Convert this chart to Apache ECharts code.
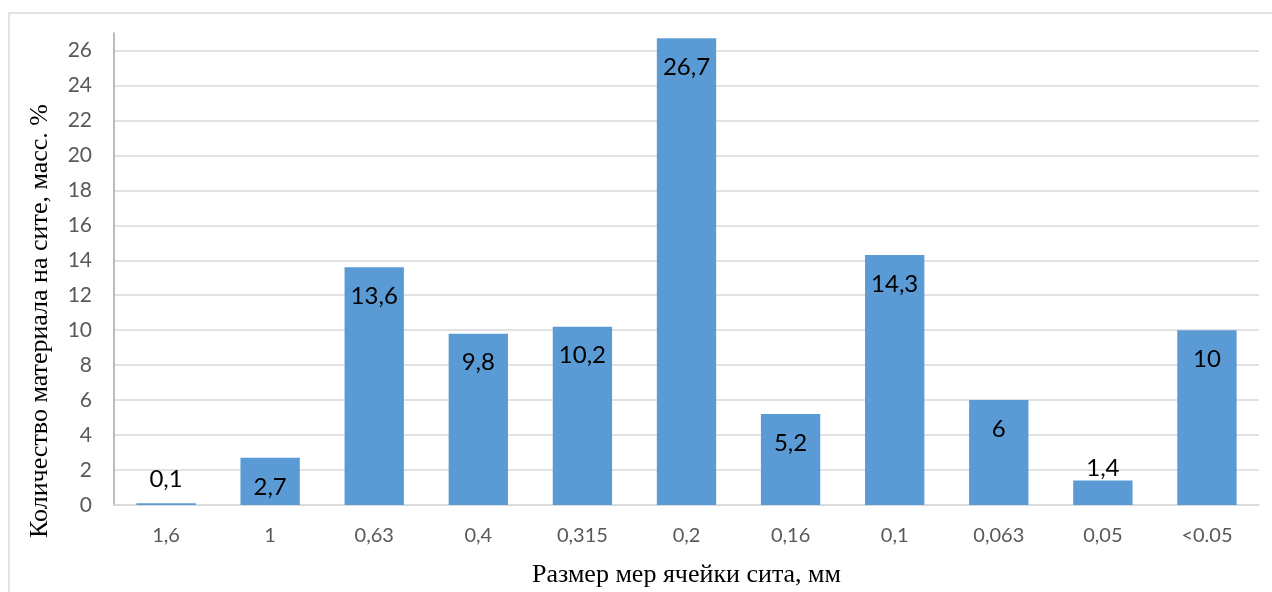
<!DOCTYPE html>
<html>
<head>
<meta charset="utf-8">
<script src="https://cdn.jsdelivr.net/npm/echarts@6/dist/echarts.min.js"></script>
<style>html,body{margin:0;padding:0;background:#fff}#c{width:1272px;height:592px}</style>
</head>
<body>
<div id="c"></div>
<script>
const categories = ['1,6', '1', '0,63', '0,4', '0,315', '0,2', '0,16', '0,1', '0,063', '0,05', '<0.05'];
const values = [0.1, 2.7, 13.6, 9.8, 10.2, 26.7, 5.2, 14.3, 6, 1.4, 10];
const labelTexts = ['0,1', '2,7', '13,6', '9,8', '10,2', '26,7', '5,2', '14,3', '6', '1,4', '10'];
const yTitle = 'Количество материала на сите, масс. %';
const xTitle = 'Размер мер ячейки сита, мм';

const chart = echarts.init(document.getElementById('c'));
const data = values.map((v, i) => {
  const item = { value: v };
  if (v < 2) {
    item.label = { position: 'top', distance: v < 1 ? 12 : 0 };
  }
  return item;
});
chart.setOption({
  animation: false,
  backgroundColor: '#fff',
  grid: { left: 114, right: 13, top: 33, bottom: 87, outerBoundsMode: 'none' },
  graphic: [
    { type: 'rect', shape: { x: 9, y: 13, width: 1300, height: 700 }, style: { fill: 'none', stroke: '#d9d9d9', lineWidth: 1.5 }, silent: true },
    { type: 'text', x: 40, y: 321, rotation: Math.PI / 2, style: { text: yTitle, font: '26px "Liberation Serif"', fill: '#000', align: 'center', verticalAlign: 'middle' } }
  ],
  xAxis: {
    type: 'category',
    data: categories,
    axisTick: { show: false },
    axisLine: { lineStyle: { color: '#d9d9d9', width: 1.5 } },
    axisLabel: { color: '#595959', fontFamily: 'Lato', fontSize: 20, margin: 21 },
    name: xTitle,
    nameLocation: 'middle',
    nameGap: 57,
    nameTextStyle: { fontFamily: 'Liberation Serif', fontSize: 26, color: '#000' }
  },
  yAxis: {
    type: 'value',
    min: 0,
    max: 27,
    interval: 2,
    axisLine: { show: true, lineStyle: { color: '#a6a6a6', width: 1.5 } },
    axisTick: { show: false },
    axisLabel: { color: '#595959', fontFamily: 'Lato', fontSize: 21, margin: 22, showMaxLabel: false },
    splitLine: { lineStyle: { color: '#d9d9d9', width: 1.5 }, showMaxLine: false }
  },
  series: [{
    type: 'bar',
    data: data,
    barWidth: '57%',
    itemStyle: { color: '#5b9bd5' },
    label: {
      show: true,
      position: 'insideTop',
      distance: 17,
      color: '#000',
      fontFamily: 'Lato',
      fontSize: 24,
      formatter: p => labelTexts[p.dataIndex]
    }
  }]
});
</script>
</body>
</html>
